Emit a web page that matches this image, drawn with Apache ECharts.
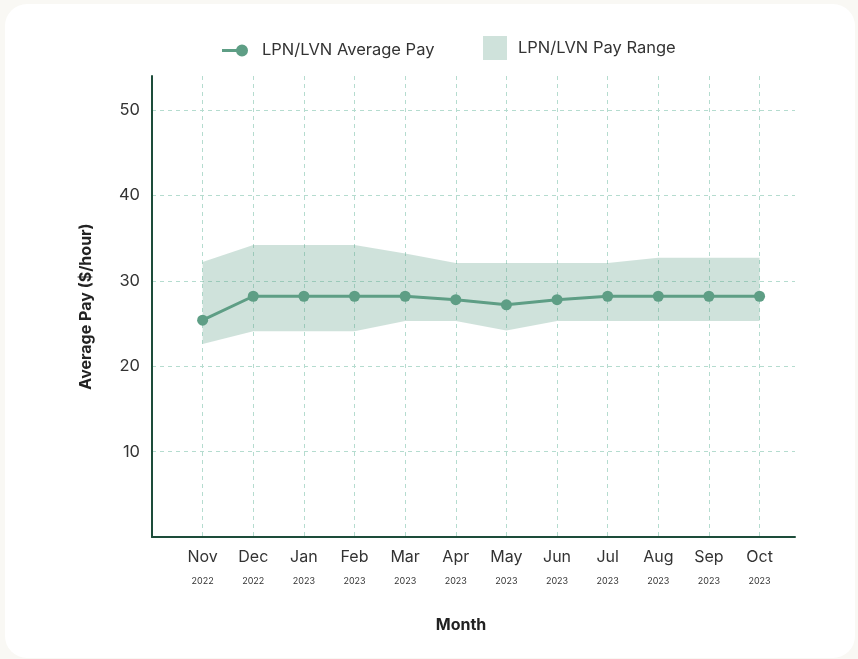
<!DOCTYPE html>
<html>
<head>
<meta charset="utf-8">
<script src="https://cdn.jsdelivr.net/npm/echarts@6/dist/echarts.min.js"></script>
<style>
  html, body { margin: 0; padding: 0; background: #f9f8f4; }
  #card {
    position: absolute; left: 5px; top: 4px; width: 850px; height: 654px;
    background: #fff; border-radius: 22px;
  }
  #chart { position: absolute; left: 0; top: 0; width: 858px; height: 659px; }
</style>
</head>
<body>
<div id="card"></div>
<div id="chart"></div>
<script>
// data
const months = ['Nov', 'Dec', 'Jan', 'Feb', 'Mar', 'Apr', 'May', 'Jun', 'Jul', 'Aug', 'Sep', 'Oct']
const years = ['2022', '2022', '2023', '2023', '2023', '2023', '2023', '2023', '2023', '2023', '2023', '2023']
const avgPay = [25.4, 28.2, 28.2, 28.2, 28.2, 27.8, 27.2, 27.8, 28.2, 28.2, 28.2, 28.2]
const payLow = [22.6, 24.1, 24.1, 24.1, 25.3, 25.3, 24.2, 25.3, 25.3, 25.3, 25.3, 25.3]
const payHigh = [32.2, 34.2, 34.2, 34.2, 33.2, 32.1, 32.1, 32.1, 32.1, 32.7, 32.7, 32.7]
const yTicks = [10, 20, 30, 40, 50]

const lineColor = '#5e9e85'
const bandColor = 'rgba(95, 160, 135, 0.3)'
const gridColor = '#b5dccf'
const axisColor = '#1d4c3a'
const font = 'Inter, "Liberation Sans", sans-serif'

const chart = echarts.init(document.getElementById('chart'))

// band polygon: upper edge left->right, lower edge right->left
const renderBand = (params, api) => {
  if (params.dataIndex !== 0) return null
  const pts = []
  for (let i = 0; i < payHigh.length; i++) pts.push(api.coord([i, payHigh[i]]))
  for (let i = payLow.length - 1; i >= 0; i--) pts.push(api.coord([i, payLow[i]]))
  return {
    type: 'polygon',
    shape: { points: pts },
    style: { fill: bandColor }
  }
}

const option = {
  animation: false,
  grid: { left: 152, right: 63, top: 76, bottom: 122 },
  legend: [
    {
      left: 222,
      top: 42,
      padding: 0,
      itemWidth: 26,
      itemHeight: 12,
      textStyle: { fontFamily: font, fontSize: 16.5, color: '#333', padding: [0, 0, 0, 9] },
      data: [{ name: 'LPN/LVN Average Pay', icon: 'path://M0,5.5h16v3h-16z M26,7a6,6 0 1,1 -12,0a6,6 0 1,1 12,0z' }]
    },
    {
      left: 483,
      top: 36,
      padding: 0,
      itemWidth: 24,
      itemHeight: 24,
      textStyle: { fontFamily: font, fontSize: 16.5, color: '#333', padding: [0, 0, 0, 6] },
      data: [{ name: 'LPN/LVN Pay Range', icon: 'rect', itemStyle: { color: '#cfe2db' } }]
    }
  ],
  title: {
    text: 'Month',
    left: 456,
    top: 612,
    textAlign: 'center',
    textStyle: { fontFamily: font, fontSize: 16, fontWeight: 'bold', color: '#222' }
  },
  xAxis: {
    type: 'value',
    min: -1,
    max: 11.7,
    interval: 1,
    axisLine: { onZero: false, lineStyle: { color: axisColor, width: 2 } },
    axisTick: { show: false },
    splitLine: {
      show: true,
      showMinLine: false,
      showMaxLine: false,
      lineStyle: { color: gridColor, type: [4, 4] }
    },
    axisLabel: {
      margin: 8,
      formatter: (v) => {
        const i = Math.round(v)
        if (i !== v || i < 0 || i >= months.length) return ''
        return '{m|' + months[i] + '}\n{y|' + years[i] + '}'
      },
      rich: {
        m: { fontFamily: font, fontSize: 16, color: '#333', lineHeight: 24 },
        y: { fontFamily: font, fontSize: 9, color: '#333', lineHeight: 24 }
      }
    }
  },
  yAxis: {
    type: 'value',
    min: 0,
    max: 54,
    interval: 10,
    name: 'Average Pay ($/hour)',
    nameLocation: 'middle',
    nameGap: 58,
    nameTextStyle: { fontFamily: font, fontSize: 16, fontWeight: 'bold', color: '#222' },
    axisLine: { show: true, onZero: false, lineStyle: { color: axisColor, width: 2 } },
    axisTick: { show: false },
    splitLine: {
      show: true,
      showMinLine: false,
      showMaxLine: false,
      lineStyle: { color: gridColor, type: [4, 4] }
    },
    axisLabel: {
      margin: 12,
      fontFamily: font,
      fontSize: 16.5,
      color: '#333',
      formatter: (v) => (yTicks.includes(v) ? String(v) : '')
    }
  },
  series: [
    {
      name: 'LPN/LVN Pay Range',
      type: 'custom',
      renderItem: renderBand,
      data: payHigh.map((v, i) => [i, v, payLow[i]]),
      encode: { x: 0, y: [1, 2] },
      silent: true,
      z: 1
    },
    {
      name: 'LPN/LVN Average Pay',
      type: 'line',
      symbol: 'circle',
      symbolSize: 11,
      itemStyle: { color: lineColor },
      lineStyle: { color: lineColor, width: 3 },
      data: avgPay.map((v, i) => [i, v]),
      z: 3
    }
  ]
}

chart.setOption(option)
</script>
</body>
</html>
